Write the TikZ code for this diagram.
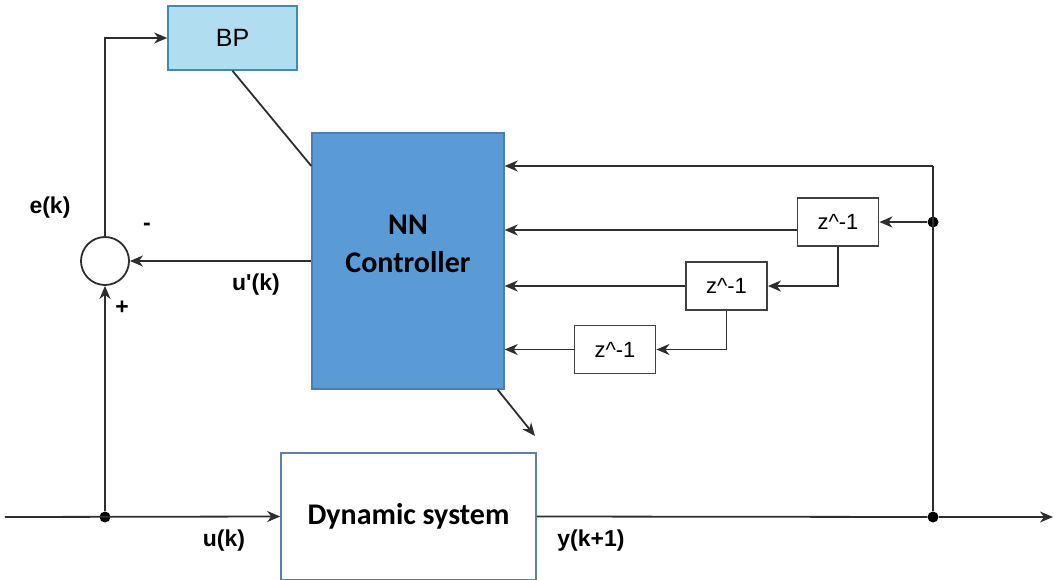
\documentclass[tikz,border=0pt]{standalone}
\usepackage{fontspec}
\setmainfont{Liberation Sans}
\newfontfamily\calfont{Carlito}
\usetikzlibrary{arrows.meta}
\definecolor{bpfill}{HTML}{B1DDF0}
\definecolor{bpline}{HTML}{3A8DB5}
\definecolor{nnfill}{HTML}{5B9BD5}
\definecolor{nnline}{HTML}{4A7EB5}
\definecolor{sysline}{HTML}{5F7FA8}
\begin{document}
\begin{tikzpicture}[x=1pt,y=-1pt,
  conn/.style={draw=black!82, line width=1.8pt},
  arr/.style={conn, -{Stealth[length=13pt,width=11pt,inset=4pt]}},
  delay/.style={draw=black!75, line width=1.8pt, fill=white, minimum width=81pt,
    minimum height=48pt, inner sep=0pt, font=\fontsize{22}{23}\selectfont},
  lbl/.style={inner sep=0pt, font=\bfseries\fontsize{23}{24}\selectfont},
  dot/.style={circle, fill=black, inner sep=0pt, minimum size=11pt}]
\useasboundingbox (0,0) rectangle (1054,580);

% blocks
\node[draw=bpline, fill=bpfill, line width=1.6pt, minimum width=129pt, minimum height=64pt,
  inner sep=0pt, font=\fontsize{25}{26}\selectfont] (bp) at (232.5,38) {BP};
\node[draw=nnline, fill=nnfill, line width=1.4pt, minimum width=192pt, minimum height=256pt,
  inner sep=0pt] (nn) at (408,261) {};
\node[font=\calfont\bfseries\fontsize{30}{38}\selectfont, align=center] (nntext) at (408,244) {NN\\Controller};
\node[draw=sysline, line width=1.6pt, fill=white, minimum width=255pt, minimum height=127pt,
  inner sep=0pt, font=\calfont\bfseries\fontsize{30}{31}\selectfont] (sys) at (408.5,516.5) {Dynamic system};
\node[draw=black!82, line width=1.8pt, circle, minimum size=48pt, inner sep=0pt] (sum) at (105,261) {};

% unit delays
\node[delay] (z1) at (838,222) {z\^{}-1};
\node[delay] (z2) at (726.5,286) {z\^{}-1};
\node[delay] (z3) at (615,349.5) {z\^{}-1};

% junctions and free ends
\node[dot] (d1) at (933,222) {};
\node[dot] (d0) at (933,517) {};
\node[dot] (du) at (105,517) {};
\coordinate (fbtop) at (933,166);
\coordinate (in) at (5,517);
\coordinate (out) at (1053,517);
\coordinate (nnout) at (535,436);

% labels
\node[lbl] (ek) at (50,208) {e(k)};
\node[lbl] (minus) at (147,227) {-};
\node[lbl] (upk) at (256,285) {u\textquotesingle(k)};
\node[lbl] (plus) at (122,308) {+};
\node[lbl] (uk) at (224,541) {u(k)};
\node[lbl] (yk) at (591,541) {y(k+1)};

% signal paths
\draw[arr] (in) -- (sys.west);
\draw[conn] (sys.east) -- (d0);
\draw[arr] (d0) -- (out);
\draw[arr] (du) -- (sum.south);
\draw[arr] (nn.west) -- (sum.east);
\draw[arr] (sum.north) |- (bp.west);
\draw[conn] (bp.south) -- (nn.west |- fbtop);
\draw[conn] (d0) -- (fbtop);
\draw[arr] (fbtop) -- (nn.east |- fbtop);
\draw[arr] (d1) -- (z1.east);
\path ([yshift=-8pt]z1.west) coordinate (z1o);
\draw[arr] (z1o) -- (z1o -| nn.east);
\draw[arr] (z2.west) -- (z2.west -| nn.east);
\draw[arr] (z3.west) -- (z3.west -| nn.east);
\draw[arr] (z1.south) |- (z2.east);
\draw[arr] (z2.south) |- (z3.east);
\draw[arr] ([xshift=-7pt]nn.south east) -- (nnout);
\end{tikzpicture}
\end{document}
